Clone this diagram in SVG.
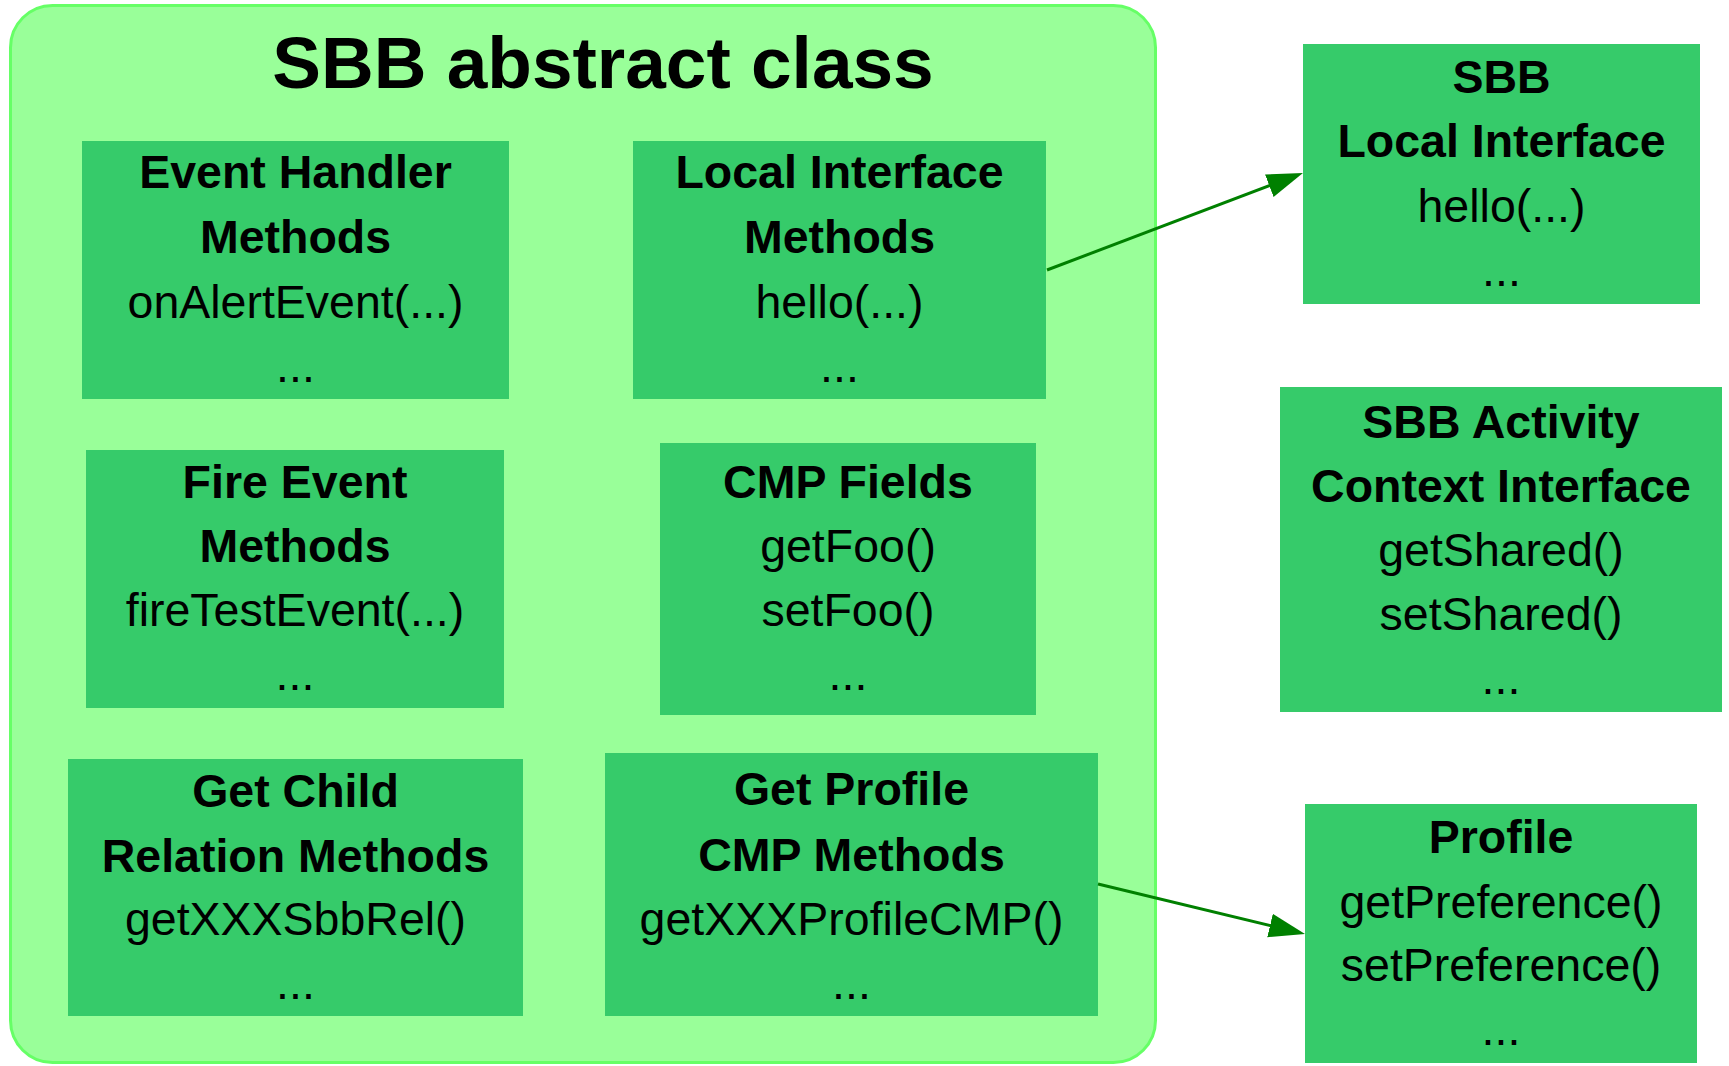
<svg xmlns="http://www.w3.org/2000/svg" width="1729" height="1066" viewBox="0 0 1729 1066">
<defs>
<style>
.box{fill:#36cb6a;}
text{font-family:"Liberation Sans",Arial,sans-serif;font-size:46.5px;fill:#000;text-anchor:middle;}
.b{font-weight:bold;}
.title{font-size:73px;font-weight:bold;}
.edge{stroke:#008000;stroke-width:3;fill:none;}
</style>
<marker id="arr" markerUnits="userSpaceOnUse" markerWidth="37" markerHeight="25" refX="26" refY="12" orient="auto">
<path d="M0,0 L36,12 L0,24 Z" fill="#008000"/>
</marker>
</defs>
<rect width="1729" height="1066" fill="#ffffff"/>
<g id="sbb-abstract-class">
<rect x="10.5" y="5.5" width="1145" height="1057" rx="42" ry="42" fill="#99ff99" stroke="#66ff66" stroke-width="3"/>
<text class="title" x="603" y="88">SBB abstract class</text>
</g>
<g id="event-handler">
<rect class="box" x="82" y="141" width="427" height="258"/>
<text class="b" x="295.5" y="188">Event Handler</text>
<text class="b" x="295.5" y="253">Methods</text>
<text x="295.5" y="318">onAlertEvent(...)</text>
<text x="295.5" y="382">...</text>
</g>
<g id="local-interface-methods">
<rect class="box" x="633" y="141" width="413" height="258"/>
<text class="b" x="839.5" y="188">Local Interface</text>
<text class="b" x="839.5" y="253">Methods</text>
<text x="839.5" y="318">hello(...)</text>
<text x="839.5" y="382">...</text>
</g>
<g id="fire-event">
<rect class="box" x="86" y="450" width="418" height="258"/>
<text class="b" x="295" y="498">Fire Event</text>
<text class="b" x="295" y="562">Methods</text>
<text x="295" y="626">fireTestEvent(...)</text>
<text x="295" y="690">...</text>
</g>
<g id="cmp-fields">
<rect class="box" x="660" y="443" width="376" height="272"/>
<text class="b" x="848" y="498">CMP Fields</text>
<text x="848" y="562">getFoo()</text>
<text x="848" y="626">setFoo()</text>
<text x="848" y="690">...</text>
</g>
<g id="get-child">
<rect class="box" x="68" y="759" width="455" height="257"/>
<text class="b" x="295.5" y="807">Get Child</text>
<text class="b" x="295.5" y="872">Relation Methods</text>
<text x="295.5" y="935">getXXXSbbRel()</text>
<text x="295.5" y="999">...</text>
</g>
<g id="get-profile-cmp">
<rect class="box" x="605" y="753" width="493" height="263"/>
<text class="b" x="851.5" y="805">Get Profile</text>
<text class="b" x="851.5" y="871">CMP Methods</text>
<text x="851.5" y="935">getXXXProfileCMP()</text>
<text x="851.5" y="999">...</text>
</g>
<g id="sbb-local-interface">
<rect class="box" x="1303" y="44" width="397" height="260"/>
<text class="b" x="1501.5" y="93">SBB</text>
<text class="b" x="1501.5" y="157">Local Interface</text>
<text x="1501.5" y="222">hello(...)</text>
<text x="1501.5" y="286">...</text>
</g>
<g id="sbb-activity-context-interface">
<rect class="box" x="1280" y="387" width="442" height="325"/>
<text class="b" x="1501" y="438">SBB Activity</text>
<text class="b" x="1501" y="502">Context Interface</text>
<text x="1501" y="566">getShared()</text>
<text x="1501" y="630">setShared()</text>
<text x="1501" y="694">...</text>
</g>
<g id="profile">
<rect class="box" x="1305" y="804" width="392" height="259"/>
<text class="b" x="1501" y="853">Profile</text>
<text x="1501" y="918">getPreference()</text>
<text x="1501" y="981">setPreference()</text>
<text x="1501" y="1045">...</text>
</g>
<g id="connectors">
<line class="edge" x1="1047" y1="270" x2="1293.6" y2="176.5" marker-end="url(#arr)"/>
<line class="edge" x1="1098" y1="884" x2="1295.3" y2="931.6" marker-end="url(#arr)"/>
</g>
</svg>
